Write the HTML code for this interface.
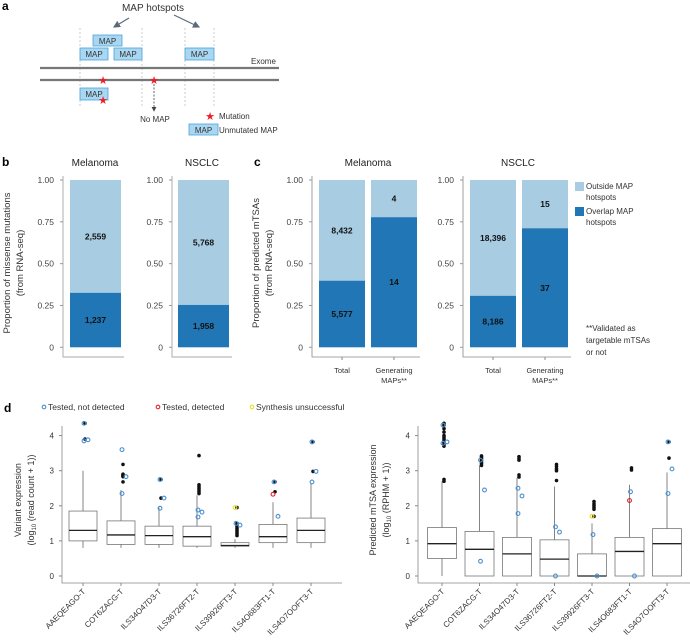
<!DOCTYPE html>
<html><head><meta charset="utf-8"><style>
body{margin:0;background:#fff}
svg{display:block;font-family:"Liberation Sans",sans-serif}
</style></head><body>
<svg id="fig" width="690" height="644" viewBox="0 0 690 644" xmlns="http://www.w3.org/2000/svg">
<defs><marker id="ah" markerWidth="6" markerHeight="6" refX="5" refY="3" orient="auto"><path d="M0,0 L6,3 L0,6 z" fill="#5a6a7a"/></marker>
<marker id="ah2" markerWidth="6" markerHeight="6" refX="5" refY="3" orient="auto"><path d="M0,0 L6,3 L0,6 z" fill="#444"/></marker></defs>
<g font-size="8">
<text x="2" y="10" font-size="12" font-weight="bold">a</text>
<text x="153" y="11" font-size="10" text-anchor="middle" fill="#333">MAP hotspots</text>
<line x1="129" y1="18" x2="114" y2="27" stroke="#5a6a7a" stroke-width="1.2" marker-end="url(#ah)"/>
<line x1="174" y1="15" x2="199" y2="27" stroke="#5a6a7a" stroke-width="1.2" marker-end="url(#ah)"/>
<g stroke="#aaa" stroke-width="0.6" stroke-dasharray="2,2">
<line x1="80" y1="28" x2="80" y2="107"/><line x1="142" y1="28" x2="142" y2="107"/><line x1="185" y1="28" x2="185" y2="107"/><line x1="214" y1="28" x2="214" y2="107"/></g>
<g fill="#a9d6f0" stroke="#4aa3d8" stroke-width="0.8">
<rect x="93" y="35" width="29" height="11"/>
<rect x="80" y="48" width="28" height="12"/>
<rect x="114" y="48" width="28" height="12"/>
<rect x="185" y="48" width="29" height="12"/>
<rect x="80" y="88" width="28" height="12"/>
<rect x="189" y="124" width="29" height="11"/></g>
<g fill="#333" text-anchor="middle" font-size="8">
<text x="107.5" y="44">MAP</text><text x="94" y="57">MAP</text><text x="128" y="57">MAP</text><text x="199.5" y="57">MAP</text><text x="94" y="97">MAP</text><text x="203.5" y="133">MAP</text></g>
<line x1="40" y1="68" x2="279" y2="68" stroke="#777" stroke-width="2.2"/>
<line x1="40" y1="80" x2="279" y2="80" stroke="#777" stroke-width="2.2"/>
<text x="251" y="64" font-size="8" fill="#333">Exome</text>
<g fill="#e8202a">
<text x="103" y="84" font-size="11" text-anchor="middle">★</text>
<text x="154" y="84" font-size="11" text-anchor="middle">★</text>
<text x="103" y="104" font-size="11" text-anchor="middle">★</text>
<text x="210" y="120" font-size="11" text-anchor="middle">★</text></g>
<line x1="154" y1="84" x2="154" y2="111" stroke="#444" stroke-width="0.8" stroke-dasharray="2,1.5" marker-end="url(#ah2)"/>
<text x="155" y="122" text-anchor="middle" fill="#333">No MAP</text>
<text x="219" y="119" fill="#333">Mutation</text>
<text x="219" y="133" fill="#333">Unmutated MAP</text>
</g>
<text x="2" y="166" font-size="12" font-weight="bold">b</text>
<text x="254" y="166" font-size="12" font-weight="bold">c</text>
<text x="4" y="412" font-size="12" font-weight="bold">d</text>
<g id="bc"></g>
<g id="dd"></g>
</svg>
<script>
// ---- panel b/c data ----
const barTitles = ["Melanoma","NSCLC","Melanoma","NSCLC"];
const barCats = ["Total","Generating MAPs**"];
const overlapCounts = [1237, 1958, 5577, 14, 8186, 37];
const outsideCounts = [2559, 5768, 8432, 4, 18396, 15];
const overlapLabels = ["1,237","1,958","5,577","14","8,186","37"];
const outsideLabels = ["2,559","5,768","8,432","4","18,396","15"];
const propTicks = [0, 0.25, 0.5, 0.75, 1.0];
const propTickLabels = ["0","0.25","0.50","0.75","1.00"];

const NS="http://www.w3.org/2000/svg";
function mk(p, tag, attrs, txt){const e=document.createElementNS(NS,tag);for(const k in attrs)e.setAttribute(k,attrs[k]);if(txt!==undefined)e.textContent=txt;p.appendChild(e);return e;}
const LIGHT="#a8cde3", DARK="#2176b5";
const bc=document.getElementById('bc');
const yProp=v=>347.3-v*167.3;
const panels=[
 {ax:63, bars:[70], w:51, tx:95, idx:[0]},
 {ax:172, bars:[178], w:51, tx:202, idx:[1]},
 {ax:312, bars:[319,371], w:46, tx:368, idx:[2,3], cats:true},
 {ax:463, bars:[470,522], w:46, tx:518, idx:[4,5], cats:true}
];
panels.forEach((p,pi)=>{
  let t=mk(bc,'text',{x:p.tx,y:166,'font-size':10,'text-anchor':'middle',fill:'#222'},barTitles[pi]);
  
  
  const last=p.bars[p.bars.length-1]+p.w+3;
  let ax=mk(bc,'path',{d:`M${p.ax},176 L${p.ax},357 L${last},357`,fill:'none',stroke:p.cats?'#888':'#bbb','stroke-width':p.cats?0.8:1.2});
  
  
  propTicks.forEach((v,i)=>{
    let tl=mk(bc,'text',{x:p.ax-9,y:yProp(v)+3,'font-size':8.5,'text-anchor':'end',fill:'#444'},propTickLabels[i]);
    
    
    mk(bc,'line',{x1:p.ax-3,x2:p.ax,y1:yProp(v),y2:yProp(v),stroke:'#999'});
  });
  p.bars.forEach((bx,bi)=>{
    const k=p.idx[bi];
    const tot=overlapCounts[k]+outsideCounts[k];
    const fr=overlapCounts[k]/tot;
    let r1=mk(bc,'rect',{x:bx,y:yProp(1),width:p.w,height:yProp(fr)-yProp(1),fill:LIGHT});
    
    
    let r2=mk(bc,'rect',{x:bx,y:yProp(fr),width:p.w,height:yProp(0)-yProp(fr),fill:DARK});
    
    
    let l1=mk(bc,'text',{x:bx+p.w/2,y:(yProp(1)+yProp(fr))/2+3,'font-size':8.5,'font-weight':'bold','text-anchor':'middle',fill:'#111'},outsideLabels[k]);
    
    
    let l2=mk(bc,'text',{x:bx+p.w/2,y:(yProp(fr)+yProp(0))/2+3,'font-size':8.5,'font-weight':'bold','text-anchor':'middle',fill:'#111'},overlapLabels[k]);
    
    
    if(p.cats){
      const parts=barCats[bi].split(' ');
      const cx=bx+p.w/2;
      mk(bc,'line',{x1:cx,x2:cx,y1:357,y2:360,stroke:'#888'});
      let c1=mk(bc,'text',{x:cx,y:373,'font-size':7.5,'text-anchor':'middle',fill:'#333'},parts[0]);
      
      
      if(parts[1]){let c2=mk(bc,'text',{x:cx,y:383,'font-size':7.5,'text-anchor':'middle',fill:'#333'},parts[1]);
      
      }
    }
  });
});
[["Proportion of missense mutations",10],["(from RNA-seq)",23]].forEach(([s,x])=>{
  let t=mk(bc,'text',{x:x,y:263,'font-size':9.5,'text-anchor':'middle',fill:'#333',transform:`rotate(-90 ${x} 263)`},s);
  
  
});
[["Proportion of predicted mTSAs",259],["(from RNA-seq)",272]].forEach(([s,x])=>{
  let t=mk(bc,'text',{x:x,y:263,'font-size':9.5,'text-anchor':'middle',fill:'#333',transform:`rotate(-90 ${x} 263)`},s);
  
  
});
let lg1=mk(bc,'rect',{x:575,y:182,width:9,height:9,fill:LIGHT});


let lg2=mk(bc,'rect',{x:575,y:207,width:9,height:9,fill:DARK});


[["Outside MAP",586,189],["hotspots",586,200],["Overlap MAP",586,214],["hotspots",586,225],["**Validated as",586,331],["targetable mTSAs",586,343],["or not",586,355]].forEach(([s,x,y])=>{
  let t=mk(bc,'text',{x:x,y:y,'font-size':8,fill:'#333'},s);
  
  
});

// ---- panel d data ----
const geneCats = ["AAEQEAGO-T","COT6ZACG-T","ILS34O47D3-T","ILS36726FT2-T","ILS39926FT3-T","ILS4O683FT1-T","ILS4O7OOFT3-T"];
const dTicks = [0,1,2,3,4];
// [whiskerLow, q1, median, q3, whiskerHigh]
const leftBoxes = [[0.8,1.0,1.3,1.85,3.0],[0.8,0.9,1.17,1.57,2.45],[0.8,0.9,1.15,1.42,1.95],[0.8,0.85,1.12,1.42,2.3],[0.8,0.85,0.87,0.95,1.05],[0.8,0.95,1.12,1.47,2.1],[0.8,0.95,1.3,1.65,2.65]];
const leftBlack = [[4.35,3.9],[3.18,2.9,2.87,2.85,2.83,2.68],[2.75,2.22],[3.43,2.6,2.55,2.5,2.45,2.4,2.35],[1.95,1.5,1.45,1.4,1.35,1.3,1.25,1.2,1.15],[2.68,2.4],[3.82,2.98]];
const leftBlue = [[4.35,3.88,3.85],[3.6,2.83,2.35],[2.75,2.22,1.93],[1.88,1.82,1.68],[1.5,1.45],[2.68,1.7],[3.82,2.98,2.68]];
const leftRed = [[],[],[],[],[],[2.33],[]];
const leftYellow = [[],[],[],[],[1.95],[],[]];
const rightBoxes = [[0,0.5,0.92,1.38,2.7],[0,0,0.76,1.27,3.15],[0,0,0.63,1.1,2.8],[0,0,0.48,1.03,2.55],[0,0,0,0.63,1.5],[0,0,0.7,1.1,2.6],[0,0,0.92,1.35,2.95]];
const rightBlack = [[4.35,4.3,4.2,4.1,4.0,3.95,3.9,3.85,3.8,3.75,3.7,2.75,2.7],[3.42,3.38,3.35,3.3,3.25,3.2,3.15],[3.4,3.35,3.3,2.88,2.82],[3.18,3.12,3.05,3.0,2.72],[2.12,2.05,2.0,1.95,1.9,1.7],[3.08,3.02],[3.82,3.36]];
const rightBlue = [[4.3,3.82,3.78],[3.3,2.45,0.42],[2.5,2.28,1.78],[1.4,1.25,0],[1.18,0],[2.4,0],[3.82,3.05,2.35]];
const rightRed = [[],[],[],[],[],[2.15],[]];
const rightYellow = [[],[],[],[],[1.7],[],[]];

const dd=document.getElementById('dd');
function drawBox(cfg){
  const y=v=>576-v*35.1;
  const xs=i=>cfg.x0+i*cfg.step;
  let ax=mk(dd,'path',{d:`M${cfg.ax},426 L${cfg.ax},583 L${cfg.ax+280},583`,fill:'none',stroke:'#888','stroke-width':0.8});
  
  
  dTicks.forEach(v=>{
    mk(dd,'line',{x1:cfg.ax-3,x2:cfg.ax,y1:y(v),y2:y(v),stroke:'#888'});
    let t=mk(dd,'text',{x:cfg.ax-8,y:y(v)+3,'font-size':8,'text-anchor':'end',fill:'#333'},String(v));
    
    
  });
  geneCats.forEach((g,i)=>{
    const cx=xs(i), b=cfg.boxes[i], hw=cfg.bw/2;
    mk(dd,'line',{x1:cx,x2:cx,y1:583,y2:586,stroke:'#888'});
    let w=mk(dd,'line',{x1:cx,x2:cx,y1:y(b[0]),y2:y(b[4]),stroke:'#666','stroke-width':0.8});
    
    
    let r=mk(dd,'rect',{x:cx-hw,y:y(b[3]),width:cfg.bw,height:Math.max(0.5,y(b[1])-y(b[3])),fill:'#fff',stroke:'#777','stroke-width':0.8});
    
    
    let m=mk(dd,'line',{x1:cx-hw,x2:cx+hw,y1:y(b[2]),y2:y(b[2]),stroke:'#222','stroke-width':1.3});
    
    
    cfg.black[i].forEach(v=>{let c=mk(dd,'circle',{cx:cx+2,cy:y(v),r:1.8,fill:'#111'});
      
      });
    cfg.blue[i].forEach((v,j)=>{let c=mk(dd,'circle',{cx:cx+(j%2?3:-1)+2,cy:y(v),r:1.9,fill:'none',stroke:'#4a8fd0','stroke-width':1.1});
      
      });
    cfg.red[i].forEach(v=>{let c=mk(dd,'circle',{cx:cx,cy:y(v),r:1.9,fill:'none',stroke:'#e8202a','stroke-width':1.1});
      
      });
    cfg.yellow[i].forEach(v=>{let c=mk(dd,'circle',{cx:cx,cy:y(v),r:1.9,fill:'none',stroke:'#e8e020','stroke-width':1.1});
      
      });
    let t=mk(dd,'text',{x:cx+3,y:592,'font-size':8,'text-anchor':'end',fill:'#333',transform:`rotate(-45 ${cx+3} 592)`},g);
    
    
  });
  cfg.title.forEach((s,k)=>{
    const tx=cfg.tx+k*13;
    let t=mk(dd,'text',{x:tx,y:500,'font-size':9,'text-anchor':'middle',fill:'#333',transform:`rotate(-90 ${tx} 500)`});
    t.innerHTML=s;
    
    
  });
}
drawBox({ax:62,x0:83,step:38,bw:28,boxes:leftBoxes,black:leftBlack,blue:leftBlue,red:leftRed,yellow:leftYellow,tx:21,
  title:["Variant expression",'(log<tspan font-size="6" dy="2">10</tspan><tspan dy="-2"> (read count + 1))</tspan>']});
drawBox({ax:418,x0:442,step:37.5,bw:29,boxes:rightBoxes,black:rightBlack,blue:rightBlue,red:rightRed,yellow:rightYellow,tx:376,
  title:["Predicted mTSA expression",'(log<tspan font-size="6" dy="2">10</tspan><tspan dy="-2"> (RPHM + 1))</tspan>']});
[["#4a8fd0",44,"Tested, not detected"],["#e8202a",158,"Tested, detected"],["#e8e020",252,"Synthesis unsuccessful"]].forEach(([c,x,s])=>{
  let ci=mk(dd,'circle',{cx:x,cy:407,r:1.8,fill:'none',stroke:c,'stroke-width':1.1});
  
  
  let t=mk(dd,'text',{x:x+4,y:410,'font-size':8.5,fill:'#333'},s);
  
  
});
</script>
</body></html>
